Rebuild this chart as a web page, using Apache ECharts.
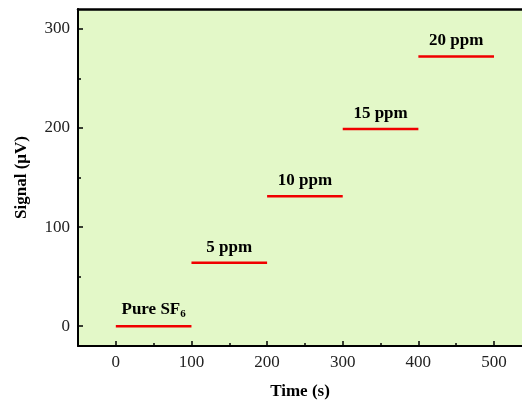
<!DOCTYPE html>
<html>
<head>
<meta charset="utf-8">
<script src="https://cdn.jsdelivr.net/npm/echarts@6/dist/echarts.min.js"></script>
<style>
  html, body { margin: 0; padding: 0; background: #fff; }
  #chart { width: 522px; height: 405px; }
</style>
</head>
<body>
<div id="chart"></div>
<script>
// signal steps
const stepStart = [0, 100, 200, 300, 400];
const stepEnd = [100, 200, 300, 400, 500];
const stepLevel = [0, 64, 131, 199, 272];
const stepLabel = ['Pure SF{sub|6}', '5 ppm', '10 ppm', '15 ppm', '20 ppm'];

const xMajor = [0, 100, 200, 300, 400, 500];
const xMinor = [50, 150, 250, 350, 450];
const yMajor = [0, 100, 200, 300];
const yMinor = [50, 150, 250];

const font = 'Liberation Serif';
const xRange = { min: -50, max: 537 };
const yRange = { min: -20, max: 320 };

const myChart = echarts.init(document.getElementById('chart'));

const hidden = { show: false };

const stepSeries = stepStart.map((s, i) => ({
    type: 'line',
    animation: false,
    symbol: 'none',
    color: '#f00000',
    lineStyle: { width: 2.5 },
    data: [[s, stepLevel[i]], [stepEnd[i], stepLevel[i]]]
}));

const labelSeries = {
    type: 'scatter',
    animation: false,
    symbolSize: 0,
    silent: true,
    itemStyle: { opacity: 1 },
    label: {
        show: true,
        position: 'top',
        distance: 7,
        formatter: (p) => stepLabel[p.dataIndex],
        fontFamily: font,
        fontWeight: 'bold',
        fontSize: 17,
        color: '#000',
        rich: {
            sub: { fontFamily: font, fontWeight: 'bold', fontSize: 11, color: '#000', verticalAlign: 'bottom', padding: [9, 0, 0, 0] }
        }
    },
    data: stepStart.map((s, i) => [(s + stepEnd[i]) / 2, stepLevel[i]])
};

const option = {
    backgroundColor: '#fff',
    grid: {
        left: 78,
        top: 9,
        right: 0,
        bottom: 57,
        show: true,
        backgroundColor: '#e3f8c8',
        borderWidth: 0
    },
    xAxis: [
        {
            type: 'value',
            ...xRange,
            position: 'bottom',
            name: 'Time (s)',
            nameLocation: 'middle',
            nameGap: 37,
            nameTextStyle: { fontFamily: font, fontWeight: 'bold', fontSize: 17, color: '#000' },
            axisLine: { onZero: false, lineStyle: { color: '#000', width: 2 } },
            axisTick: { inside: true, length: 5, customValues: xMajor, lineStyle: { color: '#000', width: 1.5 } },
            axisLabel: { customValues: xMajor, fontFamily: font, fontSize: 17, color: '#222', margin: 8 },
            splitLine: hidden
        },
        {
            type: 'value',
            ...xRange,
            position: 'bottom',
            axisLine: { show: false, onZero: false },
            axisTick: { inside: true, length: 3, customValues: xMinor, lineStyle: { color: '#000', width: 1.5 } },
            axisLabel: hidden,
            splitLine: hidden
        },
        {
            type: 'value',
            ...xRange,
            position: 'top',
            axisLine: { onZero: false, lineStyle: { color: '#000', width: 2.5 } },
            axisTick: hidden,
            axisLabel: hidden,
            splitLine: hidden
        }
    ],
    yAxis: [
        {
            type: 'value',
            ...yRange,
            name: 'Signal (\u03bcV)',
            nameLocation: 'middle',
            nameGap: 48,
            nameTextStyle: { fontFamily: font, fontWeight: 'bold', fontSize: 17, color: '#000' },
            axisLine: { show: true, onZero: false, lineStyle: { color: '#000', width: 2 } },
            axisTick: { show: true, inside: true, length: 5, customValues: yMajor, lineStyle: { color: '#000', width: 1.5 } },
            axisLabel: { customValues: yMajor, fontFamily: font, fontSize: 17, color: '#222', margin: 8 },
            splitLine: hidden
        },
        {
            type: 'value',
            ...yRange,
            position: 'left',
            axisLine: { show: false, onZero: false },
            axisTick: { show: true, inside: true, length: 3, customValues: yMinor, lineStyle: { color: '#000', width: 1.5 } },
            axisLabel: hidden,
            splitLine: hidden
        }
    ],
    series: [...stepSeries, labelSeries]
};

myChart.setOption(option);
</script>
</body>
</html>
